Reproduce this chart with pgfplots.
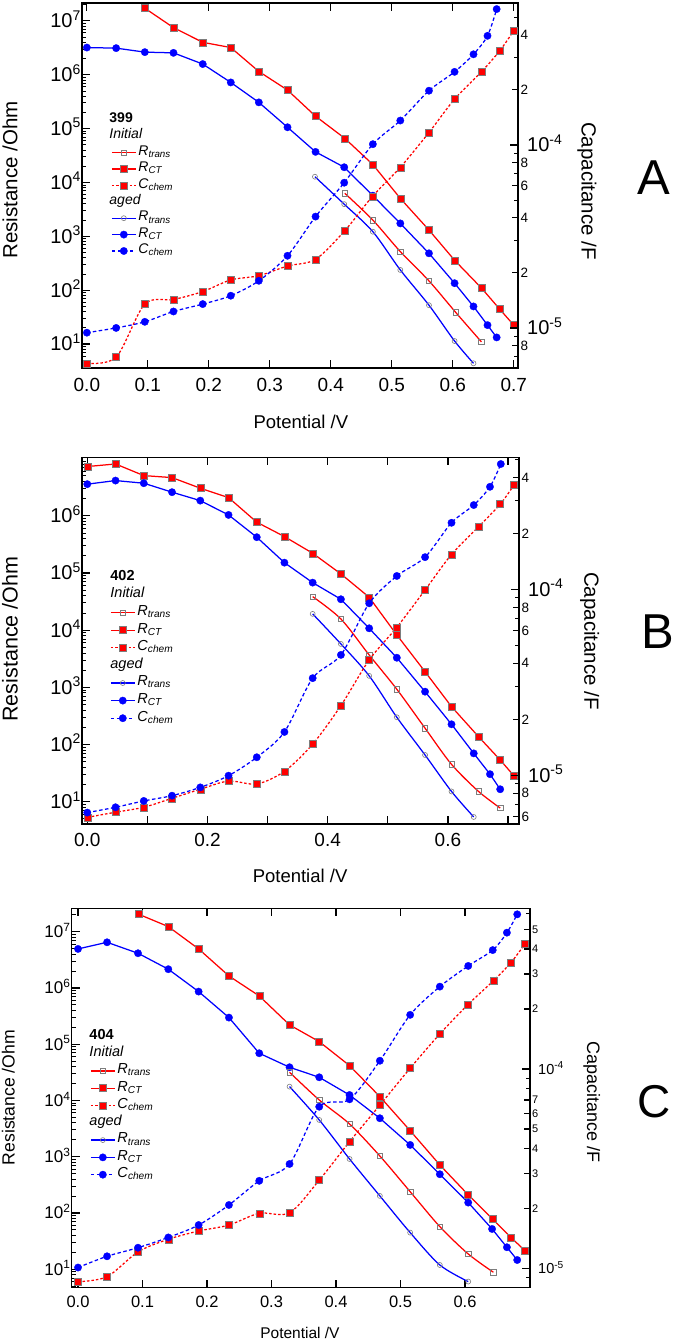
\documentclass[border=0pt]{standalone}
\usepackage{fontspec}
\setmainfont{Liberation Sans}
\usepackage{pgfplots}
\pgfplotsset{compat=1.18}
\definecolor{mred}{RGB}{255,0,0}
\definecolor{mblue}{RGB}{0,0,255}
\definecolor{mgray}{RGB}{125,125,125}
\newcommand\fs[1]{\fontsize{#1pt}{#1pt}\selectfont}
\newcommand\E[1]{10\smash{\textsuperscript{#1}}}
\newcommand\Rs[1]{\textit{R}\textsubscript{\textit{#1}}}
\newcommand\Cs[1]{\textit{C}\textsubscript{\textit{#1}}}
\newcommand\hd[2]{\makebox[0pt][l]{\hspace*{-#1}#2}}
\pgfplotsset{
 rctI/.style={mred, line width=1.25pt, mark=square*, mark size=3.5pt, mark options={solid, fill=mred, draw=mgray, line width=0.5pt}},
 rctA/.style={mblue, line width=1.25pt, mark=*, mark size=3.7pt, mark options={solid, fill=mblue, draw=mblue, line width=0.3pt}},
 rtrI/.style={mred, line width=1.25pt, mark=square, mark size=2.7pt, mark options={solid, draw=mgray, line width=0.6pt}},
 rtrA/.style={mblue, line width=1.25pt, mark=o, mark size=2.5pt, mark options={solid, draw=mgray, line width=0.6pt}},
 ccI/.style={rctI, dash pattern=on 2.5pt off 2pt},
 ccA/.style={rctA, dash pattern=on 3.5pt off 2.5pt},
 base/.style={scale only axis, clip=false, axis line style={-, line width=1.5pt}, tick align=inside,
   major tick length=8pt, minor tick length=4pt,
   every tick/.style={black, line width=1.2pt}, every minor tick/.style={line width=0.9pt},
   legend image code/.code={\draw[mark repeat=2,mark phase=2,##1] plot coordinates {(0pt,0pt) (12pt,0pt) (24pt,0pt)};}},
}
\begin{document}
\begin{tikzpicture}
\path[use as bounding box] (0,0) rectangle (675pt,1341pt);
% ================= Panel A =================
\begin{axis}[base, at={(82pt,973pt)}, anchor=south west, width=436pt, height=365pt,
 xmin=-0.008, xmax=0.707, ymode=log, ymin=3.6, ymax=2.15e7,
 xtick={0,0.1,0.2,0.3,0.4,0.5,0.6,0.7}, xticklabels={0.0,0.1,0.2,0.3,0.4,0.5,0.6,0.7},
 ytick={1e1,1e2,1e3,1e4,1e5,1e6,1e7}, yticklabels={\E{1},\E{2},\E{3},\E{4},\E{5},\E{6},\E{7}},
 minor ytick={4,5,6,7,8,9,20,30,40,50,60,70,80,90,200,300,400,500,600,700,800,900,2e3,3e3,4e3,5e3,6e3,7e3,8e3,9e3,2e4,3e4,4e4,5e4,6e4,7e4,8e4,9e4,2e5,3e5,4e5,5e5,6e5,7e5,8e5,9e5,2e6,3e6,4e6,5e6,6e6,7e6,8e6,9e6,2e7},
 ytick pos=left,
 xticklabel style={font=\fs{19}, yshift=-7pt},
 yticklabel style={font=\fs{20}, inner xsep=1pt},
 xlabel={Potential /V}, xlabel style={font=\fs{18.5}, at={(axis description cs:0.502,-0.147)}, anchor=center},
 ylabel={Resistance /Ohm}, ylabel style={font=\fs{20.5}, at={(axis description cs:-0.165,0.515)}, anchor=center},
 legend cell align=left,
 legend style={at={(0.0665,0.703)}, anchor=north west, draw=none, fill=none, inner sep=0pt, font=\fs{14},
   nodes={inner xsep=2pt, inner ysep=0pt, text height=11pt, text depth=5.4pt}},
]
\addplot[rctI, forget plot] coordinates {(0.095,1.72e7) (0.142,7.5e6) (0.19,4.0e6) (0.236,3.2e6) (0.282,1.15e6) (0.329,5.2e5) (0.375,1.7e5) (0.423,6.6e4) (0.469,2.15e4) (0.514,5.06e3) (0.561,1.31e3) (0.603,360) (0.647,110) (0.677,44.5) (0.700,22.5)};
\addplot[rctA, forget plot] coordinates {(0,3.2e6) (0.048,3.12e6) (0.095,2.63e6) (0.142,2.55e6) (0.19,1.58e6) (0.236,7.2e5) (0.282,3.07e5) (0.329,1.06e5) (0.375,3.7e4) (0.422,1.92e4) (0.469,5.7e3) (0.514,1.74e3) (0.561,484) (0.603,135) (0.634,50) (0.657,22.5) (0.672,13.3)};
\addplot[rtrI, smooth, forget plot] coordinates {(0.423,6.3e3) (0.469,2.0e3) (0.514,521) (0.561,149) (0.605,38.6) (0.647,11)};
\addplot[rtrA, smooth, forget plot] coordinates {(0.374,1.28e4) (0.422,3.96e3) (0.469,1.22e3) (0.514,238) (0.561,52.7) (0.603,11.4) (0.634,4.4)};
\addlegendimage{empty legend}\addlegendentry{\hd{29pt}{\textbf{399}}}
\addlegendimage{empty legend}\addlegendentry{\hd{29pt}{\textit{Initial}}}
\addlegendimage{rtrI}\addlegendentry{\Rs{trans}}
\addlegendimage{rctI}\addlegendentry{\Rs{CT}}
\addlegendimage{ccI}\addlegendentry{\Cs{chem}}
\addlegendimage{empty legend}\addlegendentry{\hd{29pt}{\textit{aged}}}
\addlegendimage{rtrA}\addlegendentry{\Rs{trans}}
\addlegendimage{rctA}\addlegendentry{\Rs{CT}}
\addlegendimage{ccA}\addlegendentry{\Cs{chem}}
\end{axis}
\begin{axis}[base, at={(82pt,973pt)}, anchor=south west, width=436pt, height=365pt,
 xmin=-0.008, xmax=0.707, ymode=log, ymin=6.04e-6, ymax=5.97e-4,
 axis x line=none, axis y line*=right,
 ytick={1e-5,1e-4}, yticklabels={\E{-5},\E{-4}},
 yticklabel style={font=\fs{20}, inner xsep=9pt},
 extra y ticks={8e-6,2e-5,4e-5,6e-5,8e-5,2e-4,4e-4}, extra y tick labels={8,2,4,6,8,2,4},
 extra y tick style={yticklabel style={font=\fs{13.5}, inner xsep=2.5pt}, major tick length=6pt},
 minor ytick={7e-6,9e-6,3e-5,5e-5,7e-5,9e-5,3e-4,5e-4},
 ylabel={Capacitance /F}, ylabel style={font=\fs{20.5}, at={(axis description cs:1.158,0.485)}, anchor=center, rotate=180},
]
\addplot[ccI, smooth] coordinates {(0,6.41e-6) (0.048,6.92e-6) (0.095,1.35e-5) (0.142,1.43e-5) (0.19,1.58e-5) (0.236,1.83e-5) (0.282,1.93e-5) (0.329,2.18e-5) (0.375,2.37e-5) (0.423,3.40e-5) (0.468,5.22e-5) (0.514,7.55e-5) (0.561,1.17e-4) (0.603,1.78e-4) (0.647,2.51e-4) (0.677,3.27e-4) (0.700,4.21e-4)};
\addplot[ccA, smooth] coordinates {(0,9.42e-6) (0.048,1.0e-5) (0.095,1.08e-5) (0.142,1.23e-5) (0.19,1.35e-5) (0.236,1.50e-5) (0.282,1.81e-5) (0.329,2.48e-5) (0.375,4.06e-5) (0.422,6.22e-5) (0.469,1.01e-4) (0.514,1.36e-4) (0.561,1.98e-4) (0.603,2.51e-4) (0.634,3.13e-4) (0.657,3.95e-4) (0.672,5.53e-4)};
\end{axis}
\node[font=\fs{49}] at (654pt,1163pt) {A};
% ================= Panel B =================
\begin{axis}[base, at={(82pt,517pt)}, anchor=south west, width=437pt, height=366.7pt,
 xmin=-0.0088, xmax=0.7183, ymode=log, ymin=4.07, ymax=1.06e7,
 xtick={0,0.1,0.2,0.3,0.4,0.5,0.6,0.7}, xticklabels={0.0,{},0.2,{},0.4,{},0.6,{}},
 ytick={1e1,1e2,1e3,1e4,1e5,1e6}, yticklabels={\E{1},\E{2},\E{3},\E{4},\E{5},\E{6}},
 minor ytick={5,6,7,8,9,20,30,40,50,60,70,80,90,200,300,400,500,600,700,800,900,2e3,3e3,4e3,5e3,6e3,7e3,8e3,9e3,2e4,3e4,4e4,5e4,6e4,7e4,8e4,9e4,2e5,3e5,4e5,5e5,6e5,7e5,8e5,9e5,2e6,3e6,4e6,5e6,6e6,7e6,8e6,9e6},
 ytick pos=left,
 xticklabel style={font=\fs{19}, yshift=-6pt},
 yticklabel style={font=\fs{20}, inner xsep=1pt},
 xlabel={Potential /V}, xlabel style={font=\fs{18.5}, at={(axis description cs:0.499,-0.142)}, anchor=center},
 ylabel={Resistance /Ohm}, ylabel style={font=\fs{21.5}, at={(axis description cs:-0.165,0.504)}, anchor=center},
 legend cell align=left,
 legend style={at={(0.064,0.697)}, anchor=north west, draw=none, fill=none, inner sep=0pt, font=\fs{14.5},
   nodes={inner xsep=2pt, inner ysep=0pt, text height=11.6pt, text depth=6pt}},
]
\addplot[rctI, forget plot] coordinates {(0,7.3e6) (0.047,8.1e6) (0.094,5.07e6) (0.141,4.68e6) (0.188,3.05e6) (0.235,2.09e6) (0.282,7.76e5) (0.328,4.35e5) (0.375,2.22e5) (0.422,9.66e4) (0.469,3.77e4) (0.515,8.26e3) (0.562,1.88e3) (0.606,460) (0.651,137) (0.687,53.7) (0.71,28.2)};
\addplot[rctA, forget plot] coordinates {(0,3.59e6) (0.047,4.15e6) (0.094,3.73e6) (0.141,2.6e6) (0.188,1.85e6) (0.235,1.04e6) (0.282,4.24e5) (0.328,1.52e5) (0.375,6.8e4) (0.422,3.48e4) (0.469,1.08e4) (0.515,3.3e3) (0.562,841) (0.606,226) (0.643,70) (0.670,30.3) (0.687,16.5)};
\addplot[rtrI, smooth, forget plot] coordinates {(0.375,3.87e4) (0.422,1.57e4) (0.469,3.69e3) (0.515,927) (0.562,193) (0.606,45) (0.651,15.1) (0.687,7.74)};
\addplot[rtrA, smooth, forget plot] coordinates {(0.375,1.93e4) (0.422,5.75e3) (0.469,1.59e3) (0.515,300) (0.562,65.6) (0.606,15.1) (0.643,5.4)};
\addlegendimage{empty legend}\addlegendentry{\hd{27pt}{\textbf{402}}}
\addlegendimage{empty legend}\addlegendentry{\hd{27pt}{\textit{Initial}}}
\addlegendimage{rtrI}\addlegendentry{\Rs{trans}}
\addlegendimage{rctI}\addlegendentry{\Rs{CT}}
\addlegendimage{ccI}\addlegendentry{\Cs{chem}}
\addlegendimage{empty legend}\addlegendentry{\hd{27pt}{\textit{aged}}}
\addlegendimage{rtrA}\addlegendentry{\Rs{trans}}
\addlegendimage{rctA}\addlegendentry{\Rs{CT}}
\addlegendimage{ccA}\addlegendentry{\Cs{chem}}
\end{axis}
\begin{axis}[base, at={(82pt,517pt)}, anchor=south west, width=437pt, height=366.7pt,
 xmin=-0.0088, xmax=0.7183, ymode=log, ymin=5.47e-6, ymax=5.13e-4,
 axis x line=none, axis y line*=right,
 ytick={1e-5,1e-4}, yticklabels={\E{-5},\E{-4}},
 yticklabel style={font=\fs{20}, inner xsep=9pt},
 extra y ticks={6e-6,8e-6,2e-5,4e-5,6e-5,8e-5,2e-4,4e-4}, extra y tick labels={6,8,2,4,6,8,2,4},
 extra y tick style={yticklabel style={font=\fs{13.5}, inner xsep=2.5pt}, major tick length=6pt},
 minor ytick={7e-6,9e-6,3e-5,5e-5,7e-5,9e-5,3e-4,5e-4},
 ylabel={Capacitance /F}, ylabel style={font=\fs{20.5}, at={(axis description cs:1.162,0.499)}, anchor=center, rotate=180},
]
\addplot[ccI, smooth] coordinates {(0,5.94e-6) (0.047,6.33e-6) (0.094,6.73e-6) (0.141,7.52e-6) (0.188,8.41e-6) (0.235,9.31e-6) (0.282,8.98e-6) (0.328,1.05e-5) (0.375,1.47e-5) (0.422,2.37e-5) (0.469,4.17e-5) (0.515,6.25e-5) (0.562,9.92e-5) (0.606,1.54e-4) (0.651,2.17e-4) (0.687,2.87e-4) (0.71,3.64e-4)};
\addplot[ccA, smooth] coordinates {(0,6.3e-6) (0.047,6.73e-6) (0.094,7.28e-6) (0.141,7.77e-6) (0.188,8.61e-6) (0.235,9.95e-6) (0.282,1.25e-5) (0.328,1.71e-5) (0.375,3.33e-5) (0.422,4.44e-5) (0.469,8.41e-5) (0.515,1.18e-4) (0.562,1.49e-4) (0.606,2.28e-4) (0.643,2.84e-4) (0.670,3.56e-4) (0.688,4.72e-4)};
\end{axis}
\node[font=\fs{49}] at (658pt,709pt) {B};
% ================= Panel C =================
\begin{axis}[base, at={(71.7pt,53.3pt)}, anchor=south west, width=458.3pt, height=379.4pt,
 xmin=-0.0098, xmax=0.7008, ymode=log, ymin=4.7, ymax=2.6e7,
 xtick={0,0.1,0.2,0.3,0.4,0.5,0.6}, xticklabels={0.0,0.1,0.2,0.3,0.4,0.5,0.6},
 ytick={1e1,1e2,1e3,1e4,1e5,1e6,1e7}, yticklabels={\E{1},\E{2},\E{3},\E{4},\E{5},\E{6},\E{7}},
 minor ytick={5,6,7,8,9,20,30,40,50,60,70,80,90,200,300,400,500,600,700,800,900,2e3,3e3,4e3,5e3,6e3,7e3,8e3,9e3,2e4,3e4,4e4,5e4,6e4,7e4,8e4,9e4,2e5,3e5,4e5,5e5,6e5,7e5,8e5,9e5,2e6,3e6,4e6,5e6,6e6,7e6,8e6,9e6,2e7},
 ytick pos=left,
 xticklabel style={font=\fs{16.5}, yshift=-5pt},
 yticklabel style={font=\fs{17}, inner xsep=1pt},
 xlabel={Potential /V}, xlabel style={font=\fs{15.5}, at={(axis description cs:0.498,-0.119)}, anchor=center},
 ylabel={Resistance /Ohm}, ylabel style={font=\fs{17.6}, at={(axis description cs:-0.138,0.501)}, anchor=center},
 legend cell align=left,
 legend style={at={(0.040,0.686)}, anchor=north west, draw=none, fill=none, inner sep=0pt, font=\fs{14.5},
   nodes={inner xsep=2pt, inner ysep=0pt, text height=11.5pt, text depth=5.8pt}},
]
\addplot[rctI, forget plot] coordinates {(0.094,2.04e7) (0.14,1.23e7) (0.187,4.93e6) (0.234,1.63e6) (0.281,7.2e5) (0.328,2.2e5) (0.374,1.11e5) (0.421,4.16e4) (0.468,1.17e4) (0.515,2.9e3) (0.561,714) (0.605,210) (0.643,77.5) (0.671,37) (0.693,21.4)};
\addplot[rctA, forget plot] coordinates {(0,4.93e6) (0.045,6.47e6) (0.093,4.13e6) (0.14,2.15e6) (0.187,8.6e5) (0.234,2.97e5) (0.281,6.9e4) (0.328,3.89e4) (0.374,2.58e4) (0.421,1.25e4) (0.468,4.83e3) (0.515,1.62e3) (0.561,488) (0.605,153) (0.642,52) (0.665,24.6) (0.681,14.6)};
\addplot[rtrI, smooth, forget plot] coordinates {(0.328,3.17e4) (0.374,1.02e4) (0.421,3.82e3) (0.468,1.03e3) (0.515,239) (0.561,57.2) (0.605,18.7) (0.644,8.85)};
\addplot[rtrA, smooth, forget plot] coordinates {(0.328,1.76e4) (0.374,4.5e3) (0.421,912) (0.468,201) (0.515,44.8) (0.561,11.9) (0.605,6.04)};
\addlegendimage{empty legend}\addlegendentry{\hd{28pt}{\textbf{404}}}
\addlegendimage{empty legend}\addlegendentry{\hd{28pt}{\textit{Initial}}}
\addlegendimage{rtrI}\addlegendentry{\Rs{trans}}
\addlegendimage{rctI}\addlegendentry{\Rs{CT}}
\addlegendimage{ccI}\addlegendentry{\Cs{chem}}
\addlegendimage{empty legend}\addlegendentry{\hd{28pt}{\textit{aged}}}
\addlegendimage{rtrA}\addlegendentry{\Rs{trans}}
\addlegendimage{rctA}\addlegendentry{\Rs{CT}}
\addlegendimage{ccA}\addlegendentry{\Cs{chem}}
\end{axis}
\begin{axis}[base, at={(71.7pt,53.3pt)}, anchor=south west, width=458.3pt, height=379.4pt,
 xmin=-0.0098, xmax=0.7008, ymode=log, ymin=8.0e-6, ymax=6.4e-4,
 axis x line=none, axis y line*=right,
 ytick={1e-5,1e-4}, yticklabels={\E{-5},\E{-4}},
 yticklabel style={font=\fs{14.5}, inner xsep=8pt},
 extra y ticks={2e-5,3e-5,4e-5,5e-5,6e-5,7e-5,2e-4,3e-4,4e-4,5e-4}, extra y tick labels={2,3,4,5,6,7,2,3,4,5},
 extra y tick style={yticklabel style={font=\fs{11}, inner xsep=2pt}, major tick length=6pt},
 minor ytick={9e-6,8e-5,9e-5,6e-4},
 ylabel={Capacitance /F}, ylabel style={font=\fs{18}, at={(axis description cs:1.135,0.489)}, anchor=center, rotate=180},
]
\addplot[ccI, smooth] coordinates {(0,8.57e-6) (0.045,9.08e-6) (0.093,1.21e-5) (0.14,1.40e-5) (0.187,1.54e-5) (0.234,1.65e-5) (0.281,1.89e-5) (0.328,1.90e-5) (0.374,2.77e-5) (0.421,4.32e-5) (0.468,6.59e-5) (0.515,1.01e-4) (0.561,1.50e-4) (0.605,2.11e-4) (0.644,2.77e-4) (0.671,3.41e-4) (0.693,4.24e-4)};
\addplot[ccA, smooth] coordinates {(0,1.01e-5) (0.045,1.15e-5) (0.093,1.27e-5) (0.14,1.43e-5) (0.187,1.65e-5) (0.234,2.08e-5) (0.281,2.75e-5) (0.328,3.34e-5) (0.374,6.47e-5) (0.421,7.05e-5) (0.468,1.10e-4) (0.515,1.87e-4) (0.561,2.59e-4) (0.605,3.29e-4) (0.643,3.95e-4) (0.665,4.83e-4) (0.681,5.97e-4)};
\end{axis}
\node[font=\fs{46}] at (654pt,239pt) {C};
\end{tikzpicture}
\end{document}
